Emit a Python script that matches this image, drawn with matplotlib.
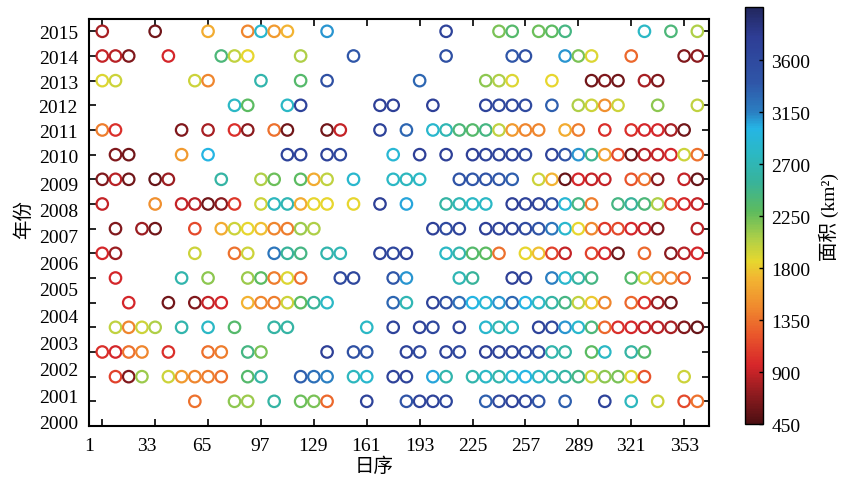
import matplotlib
matplotlib.use("Agg")
import matplotlib.pyplot as plt
from matplotlib.colors import Normalize, LinearSegmentedColormap
from matplotlib.cm import ScalarMappable

plt.rcParams['font.family'] = ['Liberation Serif', 'Noto Sans CJK SC']
plt.rcParams['font.size'] = 14

# --- data: day of year of each 8-day composite and lake area (km2) ---
doy_2015 = [1, 33, 65, 89, 97, 105, 113, 137, 209, 241, 249, 265, 273, 281, 329, 345, 361]
area_2015 = [800, 600, 1650, 1450, 2850, 1550, 1700, 3100, 3700, 2200, 2350, 2250, 2300, 2450, 2800, 2400, 2050]

doy_2014 = [1, 9, 17, 41, 73, 81, 89, 121, 153, 209, 249, 257, 281, 289, 297, 321, 353, 361]
area_2014 = [900, 850, 650, 950, 2400, 2000, 1850, 2050, 3400, 3500, 3400, 3500, 3100, 2200, 1900, 1300, 650, 700]

doy_2013 = [1, 9, 57, 65, 97, 121, 137, 193, 233, 241, 249, 273, 297, 305, 313, 329, 337]
area_2013 = [1900, 1950, 1950, 1450, 2650, 2350, 3500, 3300, 2150, 2050, 1900, 1850, 600, 650, 600, 800, 650]

doy_2012 = [81, 89, 113, 121, 169, 177, 201, 233, 241, 249, 257, 273, 289, 297, 305, 313, 337, 361]
area_2012 = [2800, 2300, 2800, 3700, 3750, 3750, 3750, 3700, 3650, 3650, 3600, 3350, 2050, 1950, 1500, 1950, 2150, 2000]

doy_2011 = [1, 9, 49, 65, 81, 89, 105, 113, 137, 145, 169, 185, 201, 209, 217, 225, 233, 241, 249,
            257, 265, 281, 289, 305, 321, 329, 337, 345, 353]
area_2011 = [1400, 1000, 650, 800, 1000, 700, 1350, 600, 600, 900, 3700, 3300, 2850, 2700, 2400, 2350, 2450,
             2000, 1550, 1450, 1450, 1650, 1400, 1000, 1000, 950, 950, 800, 600]

doy_2010 = [9, 17, 49, 65, 113, 121, 137, 145, 177, 193, 209, 225, 233, 241, 249, 257, 273, 281, 289,
            297, 305, 313, 321, 329, 337, 345, 353, 361]
area_2010 = [650, 600, 1550, 3000, 3700, 3700, 3700, 3650, 2900, 3750, 3750, 3750, 3700, 3700, 3700, 3650,
             3700, 3450, 3100, 2500, 1600, 1150, 600, 850, 900, 950, 1950, 1350]

doy_2009 = [1, 9, 17, 33, 41, 73, 97, 105, 121, 129, 137, 153, 177, 185, 193, 217, 225, 233, 241, 249,
            265, 273, 281, 289, 297, 305, 321, 329, 337, 353, 361]
area_2009 = [650, 850, 600, 550, 750, 2600, 2050, 2250, 2300, 1650, 2000, 2850, 2800, 2750, 2800, 3450,
             3400, 3450, 3400, 3350, 1950, 1700, 550, 950, 900, 900, 1200, 1350, 700, 900, 550]

doy_2008 = [1, 33, 49, 57, 65, 73, 81, 97, 105, 113, 121, 129, 137, 153, 169, 185, 209, 217, 225, 233,
            249, 257, 265, 273, 281, 289, 297, 313, 321, 329, 337, 345, 353, 361]
area_2008 = [900, 1500, 900, 850, 600, 700, 1050, 1950, 2750, 2700, 1650, 1850, 1850, 1850, 3750, 3050,
             2600, 2700, 2800, 2800, 3750, 3700, 3700, 3500, 2900, 2450, 1400, 2450, 2550, 2400, 2050,
             1150, 950, 900]

doy_2007 = [9, 25, 33, 57, 73, 81, 89, 97, 105, 113, 121, 129, 201, 209, 217, 233, 241, 249, 257, 265,
            273, 281, 289, 297, 305, 313, 321, 329, 337, 361]
area_2007 = [650, 750, 600, 1150, 1650, 1950, 1850, 1750, 1450, 1400, 2100, 2050, 3750, 3600, 3700, 3750,
             3700, 3700, 3600, 3450, 3200, 2850, 1850, 1450, 1050, 1150, 950, 900, 650, 850]

doy_2006 = [1, 9, 57, 81, 89, 105, 113, 121, 137, 145, 169, 177, 185, 209, 217, 225, 233, 241, 257, 265,
            273, 281, 297, 305, 313, 329, 345, 353, 361]
area_2006 = [950, 750, 1950, 1350, 1950, 3200, 2550, 2450, 2650, 2700, 3700, 3650, 3700, 2800, 2650, 2350,
             2300, 1350, 1850, 1750, 1100, 900, 1100, 950, 600, 1300, 700, 850, 950]

doy_2005 = [9, 49, 65, 89, 97, 105, 113, 121, 145, 153, 177, 185, 217, 225, 249, 257, 273, 281, 289, 297,
            321, 329, 337, 345, 353]
area_2005 = [950, 2650, 2150, 2100, 2300, 1400, 1900, 1350, 3600, 3650, 3400, 3100, 2700, 2550, 3750, 3700,
             3150, 2850, 2600, 2450, 2350, 1950, 1500, 1450, 1250]

doy_2004 = [17, 41, 57, 65, 73, 89, 97, 105, 113, 121, 129, 137, 177, 185, 201, 209, 217, 225, 233, 241,
            249, 257, 265, 273, 281, 289, 297, 305, 321, 329, 337, 345]
area_2004 = [950, 600, 650, 900, 950, 1700, 1450, 1400, 1950, 2300, 2550, 2800, 3300, 2700, 3700, 3500,
             3250, 3000, 2900, 3100, 3300, 3000, 2800, 2600, 2450, 2000, 1800, 1450, 1300, 1000, 750, 600]

doy_2003 = [9, 17, 25, 33, 49, 65, 81, 105, 113, 161, 177, 193, 201, 217, 233, 241, 249, 265, 273, 281,
            289, 297, 305, 313, 321, 329, 337, 345, 353, 361]
area_2003 = [2000, 1450, 1950, 2050, 2650, 2800, 2350, 2600, 2600, 2800, 3700, 3700, 3650, 3700, 2850, 2700,
             2800, 3700, 3650, 3100, 2850, 2400, 1300, 1000, 950, 900, 850, 800, 650, 550]

doy_2002 = [1, 9, 17, 25, 41, 65, 73, 89, 97, 137, 153, 161, 185, 193, 209, 217, 233, 241, 249, 257, 265,
            273, 281, 297, 305, 321, 329]
area_2002 = [1000, 950, 1350, 1450, 1000, 1350, 1400, 2450, 2200, 3750, 3500, 3450, 3700, 3650, 3700, 3650,
             3750, 3700, 3700, 3650, 3550, 2650, 2600, 2300, 2800, 2600, 2350]

doy_2001 = [9, 17, 25, 41, 49, 57, 65, 73, 89, 97, 121, 129, 137, 153, 161, 177, 185, 201, 209, 225, 233,
            241, 249, 257, 265, 273, 281, 289, 297, 305, 313, 321, 329, 353]
area_2001 = [1100, 650, 2100, 1950, 1550, 1450, 1400, 1350, 2350, 2600, 3350, 3250, 3150, 2750, 2850, 3700,
             3700, 3050, 2650, 2650, 2800, 2650, 2850, 3000, 2800, 2700, 2600, 2450, 1950, 2150, 2200, 1900,
             1200, 1950]

doy_2000 = [57, 81, 89, 105, 121, 129, 137, 161, 185, 193, 201, 209, 233, 241, 249, 257, 265, 281, 305,
            321, 337, 353, 361]
area_2000 = [1350, 2150, 2100, 2600, 2250, 2200, 1300, 3700, 3450, 3700, 3700, 3650, 3350, 3600, 3700, 3650,
             3450, 3350, 3700, 2750, 1950, 1150, 1350]

years = list(range(2000, 2016))
xtick_days = [1, 33, 65, 97, 129, 161, 193, 225, 257, 289, 321, 353]
cbar_ticks = [450, 900, 1350, 1800, 2250, 2700, 3150, 3600]

records = {
    2000: (doy_2000, area_2000), 2001: (doy_2001, area_2001), 2002: (doy_2002, area_2002),
    2003: (doy_2003, area_2003), 2004: (doy_2004, area_2004), 2005: (doy_2005, area_2005),
    2006: (doy_2006, area_2006), 2007: (doy_2007, area_2007), 2008: (doy_2008, area_2008),
    2009: (doy_2009, area_2009), 2010: (doy_2010, area_2010), 2011: (doy_2011, area_2011),
    2012: (doy_2012, area_2012), 2013: (doy_2013, area_2013), 2014: (doy_2014, area_2014),
    2015: (doy_2015, area_2015),
}

# label placement as printed (labels drift a little from their ticks)
xlabel_pos = [-6.8, 28.2, 61.4, 96.4, 128.4, 160.4, 193, 225, 257, 289, 321, 353]
ylabel_pos = [1999.19, 2000.24, 2001.34, 2002.39, 2003.49, 2004.58, 2005.64, 2006.73,
              2007.78, 2008.84, 2009.97, 2010.99, 2012.0, 2012.97, 2013.99, 2015.0]

# muted jet (reversed), as printed in the colour bar
cmap = LinearSegmentedColormap.from_list('jet_print', [
    (0.00, '#4d0f12'), (0.07, '#8e1b1f'), (0.14, '#d7262a'), (0.21, '#e9552b'),
    (0.28, '#f08a2e'), (0.35, '#f2b632'), (0.39, '#e6d72e'), (0.44, '#b3d046'),
    (0.51, '#5dbb5e'), (0.58, '#38b39a'), (0.65, '#2bb8c4'), (0.71, '#25b5e5'),
    (0.75, '#2b7ec1'), (0.82, '#2f56a8'), (0.93, '#2e3d95'), (1.00, '#22275e')])
norm = Normalize(vmin=450, vmax=4060)

fig = plt.figure(figsize=(8.48, 4.85), dpi=100)
ax = fig.add_axes([0.105, 0.1196, 0.731, 0.8392])

for yr in years:
    d, a = records[yr]
    ax.scatter(d, [yr] * len(d), s=68, facecolors='none',
               edgecolors=cmap(norm(a)), linewidths=1.6, zorder=3)

ax.set_xlim(-7, 368)
ax.set_ylim(1999, 2015.5)

ax.xaxis.remove_overlapping_locs = False
ax.yaxis.remove_overlapping_locs = False
ax.set_xticks(xtick_days, [''] * len(xtick_days))
ax.set_yticks(years, [''] * len(years))
ax.set_xticks(xlabel_pos, [str(v) for v in xtick_days], minor=True)
ax.set_yticks(ylabel_pos, [str(y) for y in years], minor=True)
ax.tick_params(which='major', direction='in', top=True, right=True, length=5, width=1.2)
ax.tick_params(which='minor', length=0, labelsize=14)
ax.tick_params(axis='x', which='minor', pad=8)
ax.tick_params(axis='y', which='minor', pad=8)
for sp in ax.spines.values():
    sp.set_linewidth(1.5)

ax.set_xlabel('日序', fontsize=14)
ax.xaxis.set_label_coords(0.46, -0.075)
ax.set_ylabel('年份', fontsize=14)
ax.yaxis.set_label_coords(-0.09, 0.51)

cax = fig.add_axes([0.8785, 0.1237, 0.0212, 0.8598])
cb = fig.colorbar(ScalarMappable(norm=norm, cmap=cmap), cax=cax)
cb.set_ticks(cbar_ticks)
cb.ax.tick_params(direction='in', length=3, width=1, labelsize=14, pad=6)
cb.outline.set_linewidth(1)
cb.set_label('面积 (km²)', fontsize=14, labelpad=6)

fig.savefig('out.png', dpi=100)
